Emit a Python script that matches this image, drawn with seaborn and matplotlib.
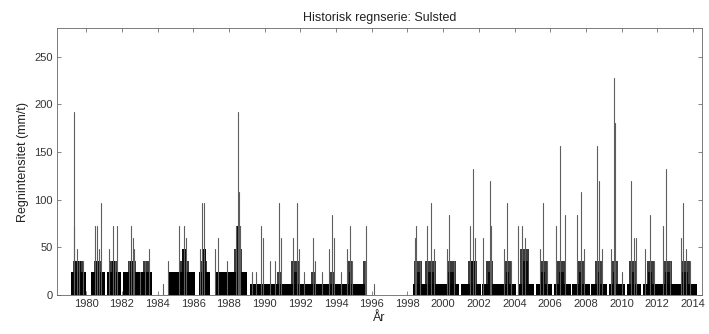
import numpy as np
import pandas as pd
import matplotlib
matplotlib.use("Agg")
import matplotlib.pyplot as plt
import seaborn as sns

# ---- data ----
spike_year = [1979.35, 1979.3, 1979.5, 1979.6, 1979.8,
              1980.5, 1980.6, 1980.85, 1980.7,
              1981.3, 1981.5, 1981.75, 1981.6,
              1982.5, 1982.6, 1982.7, 1982.4, 1983.0,
              1983.3, 1983.55,
              1984.3, 1984.6,
              1985.2, 1985.5, 1985.6,
              1986.5, 1986.6, 1986.4,
              1987.2, 1987.4, 1987.9,
              1988.4, 1988.5, 1988.55, 1988.6,
              1989.3, 1989.5,
              1989.8, 1989.9, 1990.3,
              1990.8, 1990.9, 1990.6,
              1991.6, 1991.8, 1991.9, 1992.2,
              1992.7, 1992.8, 1993.2,
              1993.6, 1993.75, 1993.9, 1994.3,
              1994.6, 1994.8, 1994.9,
              1995.7, 1995.6, 1996.15,
              1998.4, 1998.5, 1998.7,
              1999.1, 1999.3, 1999.5,
              2000.2, 2000.35, 2000.6,
              2001.5, 2001.65, 2001.8,
              2002.25, 2002.6, 2002.7,
              2003.4, 2003.6, 2003.8,
              2004.2, 2004.4, 2004.6,
              2005.4, 2005.6, 2005.8,
              2006.3, 2006.55, 2006.8,
              2007.5, 2007.7, 2007.9,
              2008.6, 2008.75, 2008.9,
              2009.55, 2009.65, 2009.4, 2010.0,
              2010.5, 2010.7, 2010.8,
              2011.3, 2011.6, 2011.8,
              2012.3, 2012.5, 2012.7,
              2013.3, 2013.45, 2013.6, 2013.8]
spike_value = [192, 72, 48, 36, 36,
               72, 72, 96, 48,
               48, 72, 72, 36,
               72, 60, 48, 36, 24,
               36, 48,
               12, 36,
               72, 72, 60,
               96, 96, 48,
               48, 60, 36,
               72, 192, 108, 72,
               24, 24,
               72, 60, 36,
               96, 60, 36,
               60, 96, 48, 24,
               60, 36, 24,
               48, 84, 60, 24,
               48, 72, 36,
               72, 36, 12,
               60, 72, 36,
               72, 96, 48,
               48, 84, 36,
               72, 132, 60,
               60, 120, 72,
               48, 96, 36,
               72, 72, 60,
               48, 96, 36,
               72, 156, 84,
               84, 108, 48,
               156, 120, 48,
               228, 180, 48, 24,
               120, 60, 60,
               48, 84, 36,
               72, 132, 36,
               60, 96, 48, 36]

# dense base activity (solid black)
base_start = [1979.15, 1980.3, 1981.15, 1982.05, 1984.6, 1986.3, 1987.3, 1989.2,
              1998.3, 2001.0, 2002.15, 2004.2, 2005.2, 2006.2, 2007.2, 2008.3,
              2009.3, 2010.3, 2011.2]
base_end = [1980.0, 1981.05, 1981.95, 1983.7, 1986.1, 1986.95, 1989.0, 1995.75,
            2000.9, 2002.1, 2004.1, 2005.1, 2006.1, 2007.15, 2008.25, 2009.2,
            2010.2, 2011.1, 2014.2]
base_level = [24, 24, 24, 24, 24, 24, 24, 12,
              12, 12, 12, 12, 12, 12, 12, 12,
              12, 12, 12]

# seasonal outer envelope (dark grey)
core_start = [1979.25, 1980.45, 1981.35, 1982.35, 1983.2, 1985.25, 1986.4, 1988.3,
              1990.7, 1991.5, 1992.6, 1993.6, 1994.6, 1995.5,
              1998.35, 1999.0, 2000.2, 2001.4, 2002.4, 2003.4, 2004.3, 2005.4,
              2006.4, 2007.5, 2008.5, 2009.4, 2010.4, 2011.4, 2012.3, 2013.3]
core_end = [1979.8, 1980.85, 1981.75, 1982.8, 1983.55, 1985.75, 1986.75, 1988.75,
            1990.95, 1991.9, 1992.8, 1993.9, 1994.9, 1995.75,
            1998.8, 1999.6, 2000.7, 2001.9, 2002.8, 2003.8, 2004.8, 2005.8,
            2006.8, 2007.9, 2008.9, 2009.8, 2010.8, 2011.8, 2012.8, 2013.8]
core_level = [36, 36, 36, 36, 36, 36, 36, 48,
              24, 36, 24, 24, 36, 36,
              36, 36, 36, 36, 36, 36, 48, 36,
              36, 36, 36, 36, 36, 36, 36, 36]

# inner dark cores of the seasons (black)
inner_start = [1979.35, 1980.55, 1981.45, 1982.45, 1985.35, 1986.5, 1988.4,
               1991.65, 1994.7,
               1998.45, 1999.15, 2000.3, 2001.5, 2002.5, 2003.5, 2004.4, 2005.5,
               2006.5, 2007.6, 2008.6, 2009.5, 2010.5, 2011.5, 2012.4, 2013.4]
inner_end = [1979.7, 1980.8, 1981.7, 1982.7, 1985.65, 1986.7, 1988.65,
             1991.85, 1994.85,
             1998.7, 1999.5, 2000.6, 2001.8, 2002.7, 2003.7, 2004.75, 2005.7,
             2006.75, 2007.8, 2008.8, 2009.7, 2010.7, 2011.7, 2012.7, 2013.7]
inner_level = [36, 36, 36, 36, 48, 48, 72,
               24, 24,
               24, 24, 24, 36, 24, 24, 36, 24,
               24, 24, 24, 24, 24, 24, 24, 24]

year_ticks = list(range(1980, 2015, 2))
value_ticks = [0, 50, 100, 150, 200, 250]

# ---- plot ----
sns.set_style("white")
plt.rcParams['font.family'] = ['Liberation Sans', 'DejaVu Sans']

fig = plt.figure(figsize=(7.09, 3.34), dpi=100)
ax = fig.add_axes([57/709, 1-295/334, (702-57)/709, (295-28)/334])

for s, e, lv in zip(core_start, core_end, core_level):
    ax.fill_between([s, e], 0, lv, color='#3c3c3c', linewidth=0)
for s, e, lv in zip(inner_start, inner_end, inner_level):
    ax.fill_between([s, e], 0, lv, color='#0a0a0a', linewidth=0)
for s, e, lv in zip(base_start, base_end, base_level):
    ax.fill_between([s, e], 0, lv, color='black', linewidth=0)

rows = []
for i, (t, v) in enumerate(zip(spike_year, spike_value)):
    rows.append({'t': t, 'v': 0, 'id': i})
    rows.append({'t': t, 'v': v, 'id': i})
df = pd.DataFrame(rows)
sns.lineplot(data=df, x='t', y='v', units='id', estimator=None, sort=False,
             color='#5e5e5e', linewidth=0.8, ax=ax, legend=False)

ax.set_xlim(1978.37, 2014.5)
ax.set_ylim(0, 280)
ax.set_xticks(year_ticks)
ax.set_xticklabels([str(y) for y in year_ticks])
ax.set_yticks(value_ticks)
ax.tick_params(direction='in', length=3, width=0.5, colors='#555555',
               labelcolor='#333333', labelsize=8, top=True, right=True,
               bottom=True, left=True, pad=3)
for sp in ax.spines.values():
    sp.set_visible(True)
    sp.set_color('#666666')
    sp.set_linewidth(0.6)

ax.set_title('Historisk regnserie: Sulsted', fontsize=9, color='#222222', pad=5)
ax.set_xlabel('År', fontsize=9, color='#222222', labelpad=2)
ax.set_ylabel('Regnintensitet (mm/t)', fontsize=9, color='#222222', labelpad=4)

fig.savefig('out.png', dpi=100)
